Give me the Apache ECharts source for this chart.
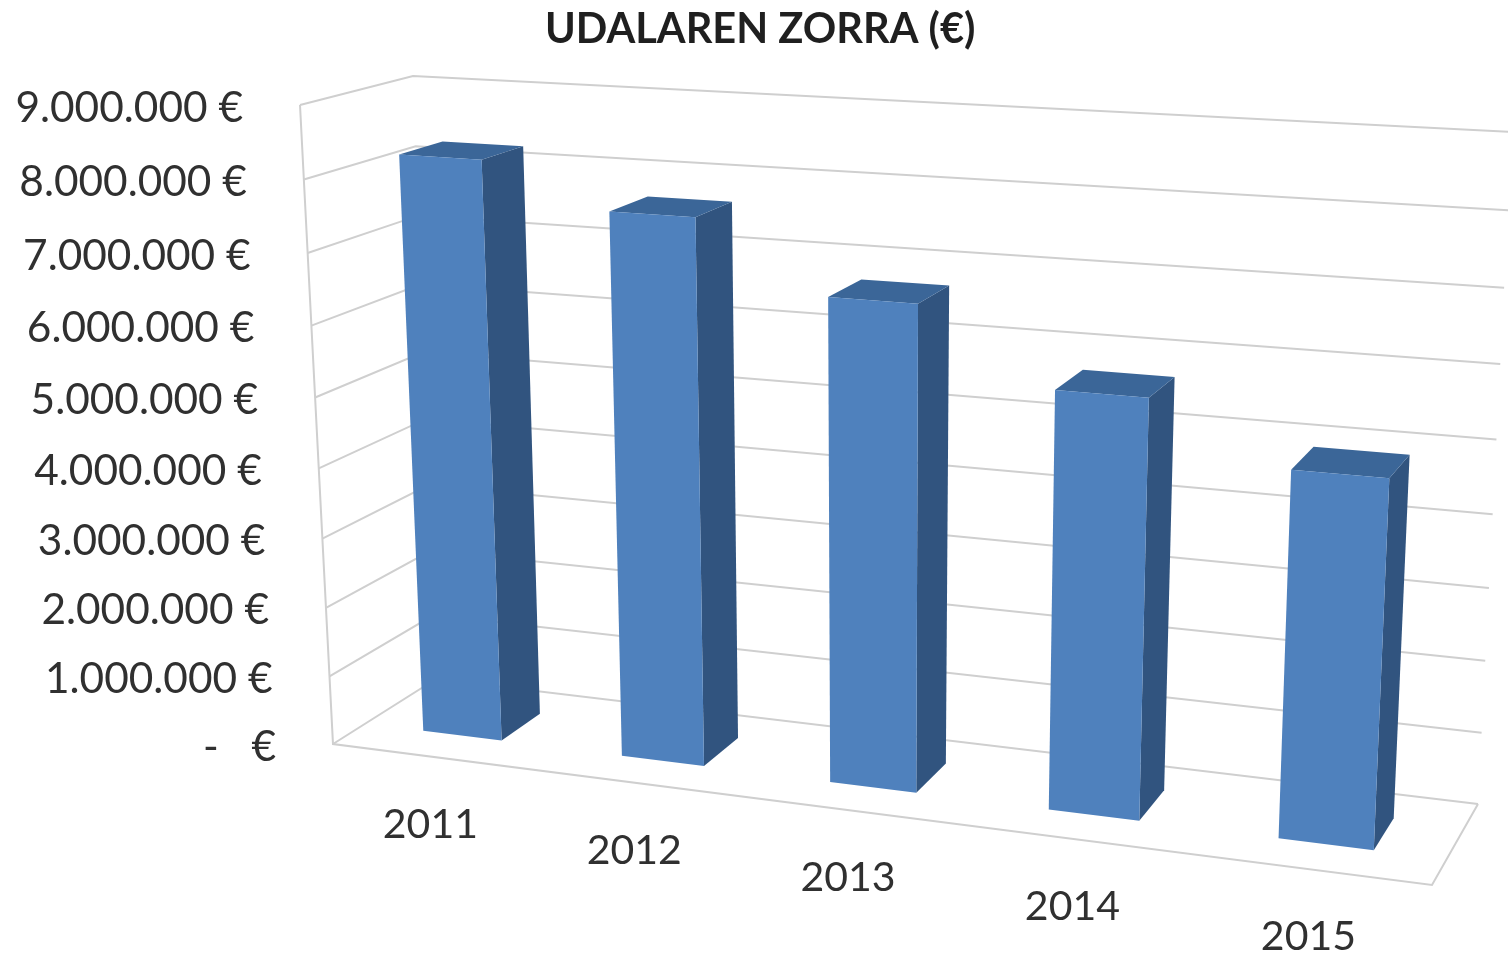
<!DOCTYPE html>
<html>
<head>
<meta charset="utf-8">
<title>Udalaren zorra</title>
<style>
html, body { margin: 0; padding: 0; background: #fff; }
#chart { width: 1508px; height: 955px; }
</style>
<script src="https://cdn.jsdelivr.net/npm/echarts@6/dist/echarts.min.js"></script>
</head>
<body>
<div id="chart"></div>
<script>
var categories = ['2011', '2012', '2013', '2014', '2015'];
var debt = [8250000, 7660000, 6720000, 5720000, 4940000];
var yTicks = [0, 1000000, 2000000, 3000000, 4000000, 5000000, 6000000, 7000000, 8000000, 9000000];
var yTickLabels = ['-   €', '1.000.000 €', '2.000.000 €', '3.000.000 €', '4.000.000 €', '5.000.000 €', '6.000.000 €', '7.000.000 €', '8.000.000 €', '9.000.000 €'];

var fontName = 'Lato, "Open Sans", sans-serif';
var lineColor = '#cfcfcf';

// screen corners of the 3d box, named [x, value, depth]
var box = {
    c000: [333, 744], c100: [1432, 885], c010: [300, 105], c110: [1465, 173],
    c001: [436, 679], c101: [1478, 804], c011: [413, 76], c111: [1512, 132]
};

// perspective spacing along one box edge
function warp(t, k) {
    return t / (t + k * (1 - t));
}
function mix(a, b, t) {
    return [a[0] + (b[0] - a[0]) * t, a[1] + (b[1] - a[1]) * t];
}
function project(u, v, d) {
    var uu = warp(u, 1.13), vv = warp(v, 1.055), dd = warp(d, 0.93);
    var front = mix(mix(box.c000, box.c100, uu), mix(box.c010, box.c110, uu), vv);
    var back = mix(mix(box.c001, box.c101, uu), mix(box.c011, box.c111, uu), vv);
    return mix(front, back, dd);
}
// pixel from the hidden grid scales -> unit box coordinates
function toUnit(params, pt) {
    var sys = params.coordSys;
    return [(pt[0] - sys.x) / sys.width, 1 - (pt[1] - sys.y) / sys.height];
}
function line(points) {
    return {
        type: 'polyline',
        shape: { points: points },
        style: { stroke: lineColor, lineWidth: 2, fill: null }
    };
}

function renderFrame(params, api) {
    var i = api.value(0);
    var v = toUnit(params, api.coord([0, api.value(1)]))[1];
    var edge = project(0, v, 0);
    var children = [
        line([edge, project(0, v, 1), project(1, v, 1)]),
        {
            type: 'text',
            style: {
                text: yTickLabels[i], x: edge[0] - 57, y: edge[1] + 3, align: 'right', verticalAlign: 'middle',
                fontSize: 42.4, fontFamily: fontName, fill: '#303030'
            }
        }
    ];
    if (v === 0) {
        children.push(line([project(0, 1, 0), edge, project(1, 0, 0), project(1, 0, 1)]));
    }
    return { type: 'group', children: children };
}

function renderBar(params, api) {
    var c = api.coord([api.value(0), api.value(1)]);
    var w = api.size([1, 0])[0] * 0.2;
    var zero = toUnit(params, api.coord([api.value(0), 0]));
    var left = toUnit(params, [c[0] - w, c[1]]);
    var right = toUnit(params, [c[0] + w, c[1]]);
    var u0 = left[0], u1 = right[0], vTop = left[1], vBot = zero[1];
    var d0 = 0.3, d1 = 0.7;
    var mid = project(zero[0], 0, 0);
    return {
        type: 'group',
        children: [
            {
                type: 'polygon',
                shape: { points: [project(u1, vBot, d0), project(u1, vBot, d1), project(u1, vTop, d1), project(u1, vTop, d0)] },
                style: { fill: '#31547f' }
            },
            {
                type: 'polygon',
                shape: { points: [project(u0, vTop, d0), project(u1, vTop, d0), project(u1, vTop, d1), project(u0, vTop, d1)] },
                style: { fill: '#3b6698' }
            },
            {
                type: 'polygon',
                shape: { points: [project(u0, vBot, d0), project(u1, vBot, d0), project(u1, vTop, d0), project(u0, vTop, d0)] },
                style: { fill: '#4f81bd' }
            },
            {
                type: 'text',
                style: {
                    text: categories[api.value(0)], x: mid[0] - 1, y: mid[1] + 68, align: 'center', verticalAlign: 'middle',
                    fontSize: 41, fontFamily: fontName, fill: '#303030'
                }
            }
        ]
    };
}

var mychart = echarts.init(document.getElementById('chart'));
mychart.setOption({
    animation: false,
    backgroundColor: '#fff',
    title: {
        text: 'UDALAREN ZORRA (€)',
        left: 540,
        top: 4,
        textStyle: { fontFamily: fontName, fontWeight: 'bold', fontSize: 41.5, color: '#1f1f1f' }
    },
    grid: { left: 0, right: 0, top: 0, bottom: 0 },
    xAxis: { type: 'category', data: categories, show: false },
    yAxis: { type: 'value', min: 0, max: 9000000, interval: 1000000, show: false },
    series: [
        {
            type: 'custom',
            silent: true,
            renderItem: renderFrame,
            data: yTicks.map(function (t, i) { return [i, t]; })
        },
        {
            type: 'custom',
            silent: true,
            renderItem: renderBar,
            data: debt.map(function (d, i) { return [i, d]; })
        }
    ]
});
</script>
</body>
</html>
